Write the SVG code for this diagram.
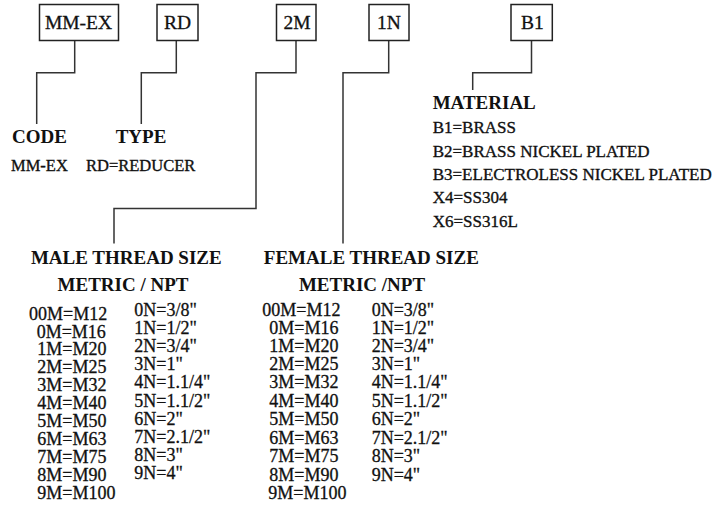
<svg xmlns="http://www.w3.org/2000/svg" width="718" height="506" viewBox="0 0 718 506">
<style>
text{font-family:"Liberation Serif","Times New Roman",serif;fill:#111;}
.box{fill:#fff;stroke:#222;stroke-width:1.5;}
.bt{font-size:19.5px;text-anchor:middle;stroke:#111;stroke-width:0.3;}
.h{font-size:19px;font-weight:bold;}
.hc{font-size:19px;font-weight:bold;text-anchor:middle;}
.v{font-size:16.5px;stroke:#111;stroke-width:0.35;}
.m{font-size:17px;stroke:#111;stroke-width:0.35;}
.l{font-size:18px;stroke:#111;stroke-width:0.3;}
.con{fill:none;stroke:#333;stroke-width:1.5;}
</style>
<rect width="718" height="506" fill="#fff"/>
<g id="connectors">
<polyline class="con" points="74.7,40.7 74.7,72.7 36.7,72.7 36.7,124"/>
<polyline class="con" points="176.3,40.7 176.3,72.7 141.3,72.7 141.3,124"/>
<polyline class="con" points="296,40.7 296,72.7 256,72.7 256,208.5 114,208.5 114,243.5"/>
<polyline class="con" points="388.7,40.7 388.7,72.7 343,72.7 343,243.5"/>
<polyline class="con" points="531.5,40.7 531.5,72.7 472.7,72.7 472.7,90"/>
</g>
<g id="code">
<rect class="box" x="39.5" y="4.5" width="79" height="36"/>
<text class="bt" x="78.5" y="29">MM-EX</text>
<text class="h" x="12" y="143.3">CODE</text>
<text class="v" x="11" y="170.7">MM-EX</text>
</g>
<g id="type">
<rect class="box" x="157" y="4.5" width="41" height="36"/>
<text class="bt" x="177.5" y="29">RD</text>
<text class="h" x="115.7" y="143.3">TYPE</text>
<text class="v" x="86" y="170.7">RD=REDUCER</text>
</g>
<g id="male">
<rect class="box" x="276.5" y="4.5" width="39.5" height="36"/>
<text class="bt" x="297" y="29">2M</text>
<text class="hc" x="126.3" y="264.3">MALE THREAD SIZE</text>
<text class="hc" x="123" y="291">METRIC / NPT</text>
<text class="l"><tspan x="29" y="319.5">00M=M12</tspan><tspan x="36.7" y="337.5">0M=M16</tspan><tspan x="37.3" y="355.4">1M=M20</tspan><tspan x="37.3" y="373.3">2M=M25</tspan><tspan x="37.3" y="391.3">3M=M32</tspan><tspan x="37.3" y="409.3">4M=M40</tspan><tspan x="37.3" y="427.2">5M=M50</tspan><tspan x="37.3" y="445.2">6M=M63</tspan><tspan x="37.3" y="463.1">7M=M75</tspan><tspan x="37.3" y="481.1">8M=M90</tspan><tspan x="37.3" y="499">9M=M100</tspan></text>
<text class="l"><tspan x="134.3" y="316">0N=3/8&quot;</tspan><tspan x="134.3" y="334.1">1N=1/2&quot;</tspan><tspan x="134.3" y="352.2">2N=3/4&quot;</tspan><tspan x="134.3" y="370.3">3N=1&quot;</tspan><tspan x="134.3" y="388.4">4N=1.1/4&quot;</tspan><tspan x="134.3" y="406.5">5N=1.1/2&quot;</tspan><tspan x="134.3" y="424.6">6N=2&quot;</tspan><tspan x="134.3" y="442.7">7N=2.1/2&quot;</tspan><tspan x="134.3" y="460.8">8N=3&quot;</tspan><tspan x="134.3" y="479">9N=4&quot;</tspan></text>
</g>
<g id="female">
<rect class="box" x="369" y="4.5" width="40" height="36"/>
<text class="bt" x="389" y="29">1N</text>
<text class="hc" x="371.3" y="264.3">FEMALE THREAD SIZE</text>
<text class="hc" x="362" y="291">METRIC /NPT</text>
<text class="l"><tspan x="262.3" y="316">00M=M12</tspan><tspan x="269.3" y="334">0M=M16</tspan><tspan x="269.3" y="351.7">1M=M20</tspan><tspan x="269.3" y="370">2M=M25</tspan><tspan x="269.3" y="388.3">3M=M32</tspan><tspan x="269.3" y="406.7">4M=M40</tspan><tspan x="269.3" y="425">5M=M50</tspan><tspan x="269.3" y="444">6M=M63</tspan><tspan x="269.3" y="462.3">7M=M75</tspan><tspan x="269.3" y="480.7">8M=M90</tspan><tspan x="268.3" y="498.7">9M=M100</tspan></text>
<text class="l"><tspan x="371.7" y="316">0N=3/8&quot;</tspan><tspan x="371.7" y="334">1N=1/2&quot;</tspan><tspan x="371.7" y="351.7">2N=3/4&quot;</tspan><tspan x="371.7" y="370">3N=1&quot;</tspan><tspan x="371.7" y="388.3">4N=1.1/4&quot;</tspan><tspan x="371.7" y="406.7">5N=1.1/2&quot;</tspan><tspan x="371.7" y="425">6N=2&quot;</tspan><tspan x="371.7" y="444">7N=2.1/2&quot;</tspan><tspan x="371.7" y="462.3">8N=3&quot;</tspan><tspan x="371.7" y="480.7">9N=4&quot;</tspan></text>
</g>
<g id="material">
<rect class="box" x="511" y="4.5" width="41.3" height="36"/>
<text class="bt" x="532.5" y="29">B1</text>
<text class="h" x="432.7" y="109">MATERIAL</text>
<text class="m"><tspan x="432.7" y="133.3">B1=BRASS</tspan><tspan x="432.7" y="156.7">B2=BRASS NICKEL PLATED</tspan><tspan x="432.7" y="180.3">B3=ELECTROLESS NICKEL PLATED</tspan><tspan x="432.7" y="203.3">X4=SS304</tspan><tspan x="432.7" y="226.7">X6=SS316L</tspan></text>
</g>
</svg>
